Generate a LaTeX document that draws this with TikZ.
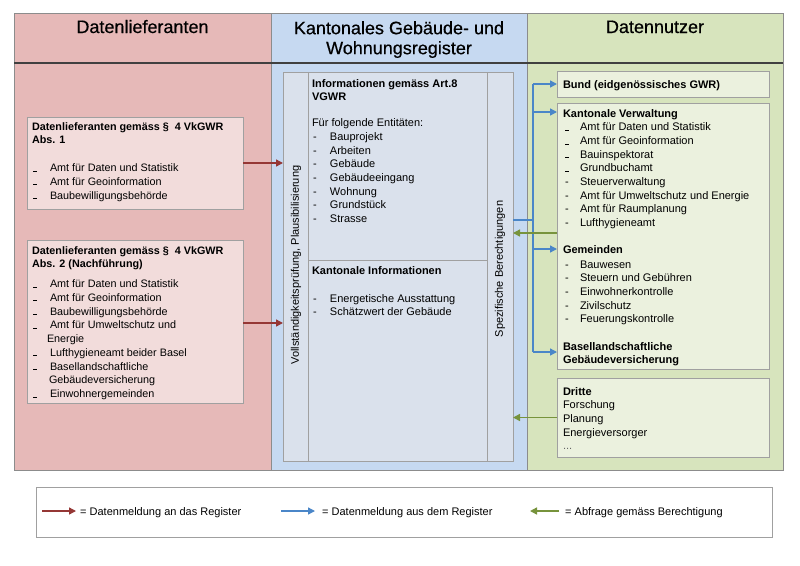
\documentclass[tikz,border=0pt]{standalone}
\usepackage{fontspec}
\setmainfont{Liberation Sans}
\newfontfamily\headfont[FakeBold=0.5]{Liberation Sans}
\usetikzlibrary{arrows.meta}
\definecolor{colred}{HTML}{E6B9B8}
\definecolor{boxred}{HTML}{F2DCDB}
\definecolor{colblue}{HTML}{C6D9F1}
\definecolor{boxblue}{HTML}{DAE1EC}
\definecolor{colgreen}{HTML}{D7E4BD}
\definecolor{boxgreen}{HTML}{EBF1DE}
\definecolor{colborder}{HTML}{8C8C8C}
\definecolor{boxborder}{HTML}{A0A0A0}
\definecolor{headline}{HTML}{404040}
\definecolor{arrred}{HTML}{953735}
\definecolor{arrblue}{HTML}{4A86C8}
\definecolor{arrgreen}{HTML}{77933C}
\newcommand{\ldash}{\rule{3.5pt}{0.8pt}}
\newcommand{\litemL}[1]{\makebox[18pt][l]{\hspace{1pt}\ldash}#1}
\newcommand{\litemH}[1]{\makebox[18pt][l]{\hspace{1pt}-}#1}
\newcommand{\ritemL}[1]{\makebox[17pt][l]{\hspace{2pt}\ldash}#1}
\newcommand{\ritemH}[1]{\makebox[17pt][l]{\hspace{2pt}-}#1}
\newcommand{\fs}{\rule{0pt}{10pt}}
\begin{document}
\begin{tikzpicture}[x=1pt,y=-1pt,
  col/.style={draw=colborder, line width=0.7pt, anchor=north west, inner sep=0pt, outer sep=0pt},
  box/.style={draw=boxborder, line width=0.7pt, anchor=north west, inner sep=0pt, outer sep=0pt},
  txt/.style={anchor=north west, inner sep=0pt, outer sep=0pt, align=left, font=\fontsize{11}{13.7}\selectfont},
  txtL/.style={txt, font=\fontsize{10.8}{13.75}\selectfont},
  head/.style={inner sep=0pt, align=center, font=\headfont\fontsize{18}{20}\selectfont},
  rot/.style={rotate=90, inner sep=0pt, font=\fontsize{11}{13}\selectfont},
  tip/.style={-{Triangle[length=7pt,width=7pt]}},
  redarrow/.style={draw=arrred, line width=1.4pt, tip},
  bluearrow/.style={draw=arrblue, line width=1.4pt, tip},
  blueline/.style={draw=arrblue, line width=1.4pt},
  greenarrow/.style={draw=arrgreen, line width=1.4pt, tip},
  legtxt/.style={anchor=base west, inner sep=0pt, font=\fontsize{11}{13}\selectfont}
]
\useasboundingbox (0,0) rectangle (800,565);
\fill[white] (0,0) rectangle (800,565);

% columns
\node[col, fill=colred, minimum width=257pt, minimum height=457pt] (colL) at (14,13) {};
\node[col, fill=colblue, minimum width=256pt, minimum height=457pt] (colM) at (271,13) {};
\node[col, fill=colgreen, minimum width=256pt, minimum height=457pt] (colR) at (527,13) {};
\draw[headline, line width=1.6pt] (colL.west |- 0,63) coordinate (hl) -- (colR.east |- hl);

% headers
\node[head, anchor=base] (hL) at (142.5,33) {Datenlieferanten};
\node[head, anchor=north] (hM) at (399,19) {\rule{0pt}{15pt}Kantonales Gebäude- und\\Wohnungsregister};
\node[head, anchor=base] (hR) at (655,33) {Datennutzer};

% left boxes
\node[box, fill=boxred, minimum width=216pt, minimum height=92pt] (lb1) at (27,117) {};
\node[txtL] (lb1t) at (32,120) {\fs\textbf{Datenlieferanten gemäss §\ \ 4 VkGWR}\\
\textbf{Abs. 1}\\[14pt]
\litemL{Amt für Daten und Statistik}\\
\litemL{Amt für Geoinformation}\\
\litemL{Baubewilligungsbehörde}};

\node[box, fill=boxred, minimum width=216pt, minimum height=163pt] (lb2) at (27,240) {};
\node[txtL] (lb2t) at (32,244) {\fs\textbf{Datenlieferanten gemäss §\ \ 4 VkGWR}\\
\textbf{Abs. 2 (Nachführung)}\\[6pt]
\litemL{Amt für Daten und Statistik}\\
\litemL{Amt für Geoinformation}\\
\litemL{Baubewilligungsbehörde}\\
\litemL{Amt für Umweltschutz und}\\
\hspace{15pt}Energie\\
\litemL{Lufthygieneamt beider Basel}\\
\litemL{Basellandschaftliche}\\
\hspace{17pt}Gebäudeversicherung\\
\litemL{Einwohnergemeinden}};

% register
\node[box, fill=boxblue, minimum width=230pt, minimum height=389pt] (reg) at (283,72) {};
\draw[boxborder, line width=0.7pt] ([xshift=25pt]reg.north west) coordinate (s1t) -- ([xshift=25pt]reg.south west) coordinate (s1b);
\draw[boxborder, line width=0.7pt] ([xshift=-26pt]reg.north east) coordinate (s2t) -- ([xshift=-26pt]reg.south east) coordinate (s2b);
\draw[boxborder, line width=0.7pt] (s1t |- 0,260) coordinate (dv1) -- (s2t |- dv1);

\node[rot] (vchk) at (296,265) {Vollständigkeitsprüfung, Plausibilisierung};
\node[rot] (vber) at (500,269) {Spezifische Berechtigungen};

\node[txt] (mt) at (312,77) {\fs\textbf{Informationen gemäss Art.8}\\
\textbf{VGWR}\\[12.3pt]
Für folgende Entitäten:\\
\litemH{Bauprojekt}\\
\litemH{Arbeiten}\\
\litemH{Gebäude}\\
\litemH{Gebäudeeingang}\\
\litemH{Wohnung}\\
\litemH{Grundstück}\\
\litemH{Strasse}};

\node[txt] (mb) at (312,264) {\fs\textbf{Kantonale Informationen}\\[14.3pt]
\litemH{Energetische Ausstattung}\\
\litemH{Schätzwert der Gebäude}};

% right boxes
\node[box, fill=boxgreen, minimum width=212pt, minimum height=26pt] (bund) at (557,71) {};
\node[txt] (bundt) at (563,78) {\fs\textbf{Bund (eidgenössisches GWR)}};

\node[box, fill=boxgreen, minimum width=212pt, minimum height=266pt] (kv) at (557,103) {};
\node[txt] (kvt) at (563,107) {\fs\textbf{Kantonale Verwaltung}\\
\ritemL{Amt für Daten und Statistik}\\
\ritemL{Amt für Geoinformation}\\
\ritemL{Bauinspektorat}\\
\ritemL{Grundbuchamt}\\
\ritemH{Steuerverwaltung}\\
\ritemH{Amt für Umweltschutz und Energie}\\
\ritemH{Amt für Raumplanung}\\
\ritemH{Lufthygieneamt}};
\node[txt] (gemt) at (563,243) {\fs\textbf{Gemeinden}\\[1.3pt]
\ritemH{Bauwesen}\\
\ritemH{Steuern und Gebühren}\\
\ritemH{Einwohnerkontrolle}\\
\ritemH{Zivilschutz}\\
\ritemH{Feuerungskontrolle}};
\node[txt] (bast) at (563,340) {\fs\textbf{Basellandschaftliche}\\
\textbf{Gebäudeversicherung}};

\node[box, fill=boxgreen, minimum width=212pt, minimum height=79pt] (dritte) at (557,378) {};
\node[txt] (drt) at (563,385) {\fs\textbf{Dritte}\\
Forschung\\
Planung\\
Energieversorger\\
{\color{black!60}...}};

% red arrows
\draw[redarrow] (lb1.east) -- (reg.west |- lb1.east);
\draw[redarrow] ([yshift=-1.5pt]lb2.east) coordinate (r2) -- (reg.west |- r2);

% blue distribution
\coordinate (bj) at (533,220);
\draw[blueline] (reg.east |- bj) -- (bj);
\draw[blueline] (bj |- bund.west) -- (bj |- 0,352);
\draw[bluearrow] (bj |- bund.west) -- (bund.west);
\coordinate (kvA) at ([yshift=-9pt]kv.north west);
\draw[bluearrow] (bj |- kvA) -- (kvA);
\coordinate (gemA) at ([yshift=-146pt]kv.north west);
\draw[bluearrow] (bj |- gemA) -- (gemA);
\coordinate (basA) at ([yshift=-249pt]kv.north west);
\draw[bluearrow] (bj |- basA) -- (basA);

% green arrows
\coordinate (g1) at ([yshift=-130pt]kv.north west);
\draw[greenarrow] (g1) -- (reg.east |- g1);
\draw[greenarrow] (dritte.west) -- (reg.east |- dritte.west);

% legend
\node[box, fill=white, minimum width=736pt, minimum height=50pt] (leg) at (36,487) {};
\coordinate (l1a) at (42,511); \coordinate (l1b) at (76,511);
\draw[redarrow] (l1a) -- (l1b);
\node[legtxt] (l1t) at (80,515) {= Datenmeldung an das Register};
\coordinate (l2a) at (281,511); \coordinate (l2b) at (315,511);
\draw[bluearrow] (l2a) -- (l2b);
\node[legtxt] (l2t) at (322,515) {= Datenmeldung aus dem Register};
\coordinate (l3a) at (559,511); \coordinate (l3b) at (530,511);
\draw[greenarrow] (l3a) -- (l3b);
\node[legtxt] (l3t) at (565,515) {= Abfrage gemäss Berechtigung};
\end{tikzpicture}
\end{document}
